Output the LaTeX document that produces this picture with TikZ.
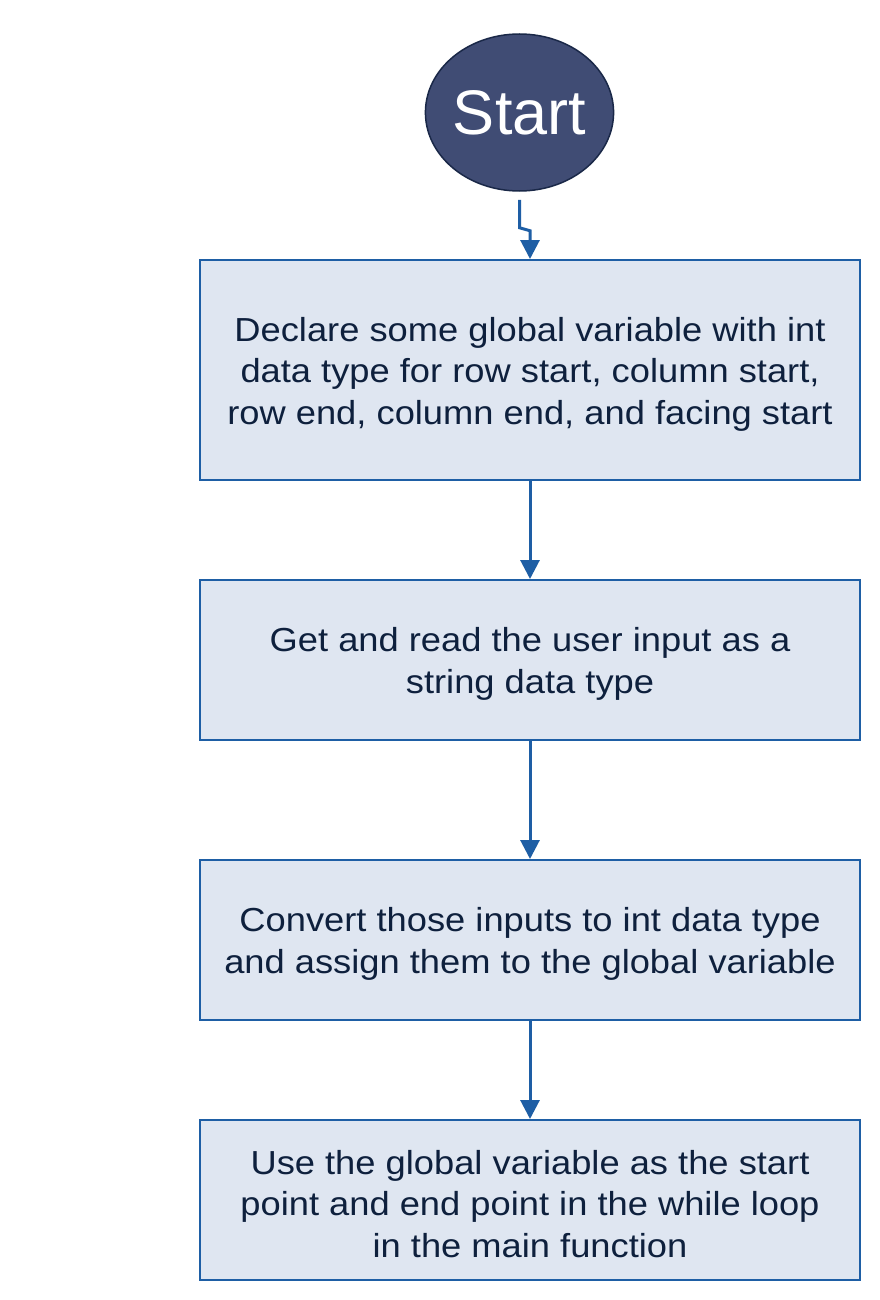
\documentclass[tikz,border=0pt]{standalone}
\usepackage{fontspec}
\setmainfont{Liberation Sans}
\newfontfamily\boxfont[FakeStretch=1.09]{Liberation Sans}
\usetikzlibrary{shapes.geometric,arrows.meta}
\definecolor{startfill}{HTML}{404C74}
\definecolor{startedge}{HTML}{1A2848}
\definecolor{boxfill}{HTML}{DFE6F1}
\definecolor{boxedge}{HTML}{1E5EA5}
\definecolor{boxtext}{HTML}{0E203D}
\definecolor{arrowcol}{HTML}{1E5EA5}
\tikzset{
  startnode/.style={ellipse, draw=startedge, line width=1.5pt, fill=startfill,
    minimum width=181pt, minimum height=157pt, inner sep=0pt,
    text=white, font=\fontsize{63}{70}\selectfont},
  stepbox/.style={rectangle, draw=boxedge, line width=2pt, fill=boxfill,
    minimum width=660pt, inner sep=0pt},
  boxlabel/.style={text=boxtext, align=center, inner sep=0pt, yshift=-4pt,
    font=\boxfont\fontsize{33.3}{41.5}\selectfont},
  conn/.style={draw=arrowcol, line width=3pt,
    -{Triangle[width=19pt,length=19pt]}}
}
\begin{document}
\begin{tikzpicture}[x=1pt,y=-1pt]
\useasboundingbox[fill=white] (0,0) rectangle (880,1300);
\node[startnode] (s) at (519.5,112.5) {Start};
\node[stepbox, minimum height=220pt,
  label={[boxlabel]center:{Declare some global variable with int\\data type for row start, column start,\\row end, column end, and facing start}}] (b1) at (530,370) {};
\node[stepbox, minimum height=160pt,
  label={[boxlabel]center:{Get and read the user input as a\\string data type}}] (b2) at (530,660) {};
\node[stepbox, minimum height=160pt,
  label={[boxlabel]center:{Convert those inputs to int data type\\and assign them to the global variable}}] (b3) at (530,940) {};
\node[stepbox, minimum height=160pt,
  label={[boxlabel]center:{Use the global variable as the start\\point and end point in the while loop\\in the main function}}] (b4) at (530,1200) {};
\draw[conn] ([yshift=-8pt]s.south) -- ++(0,28) -- ++(10.5,3) -- (b1.north);
\draw[conn] (b1.south) -- (b2.north);
\draw[conn] (b2.south) -- (b3.north);
\draw[conn] (b3.south) -- (b4.north);
\end{tikzpicture}
\end{document}
